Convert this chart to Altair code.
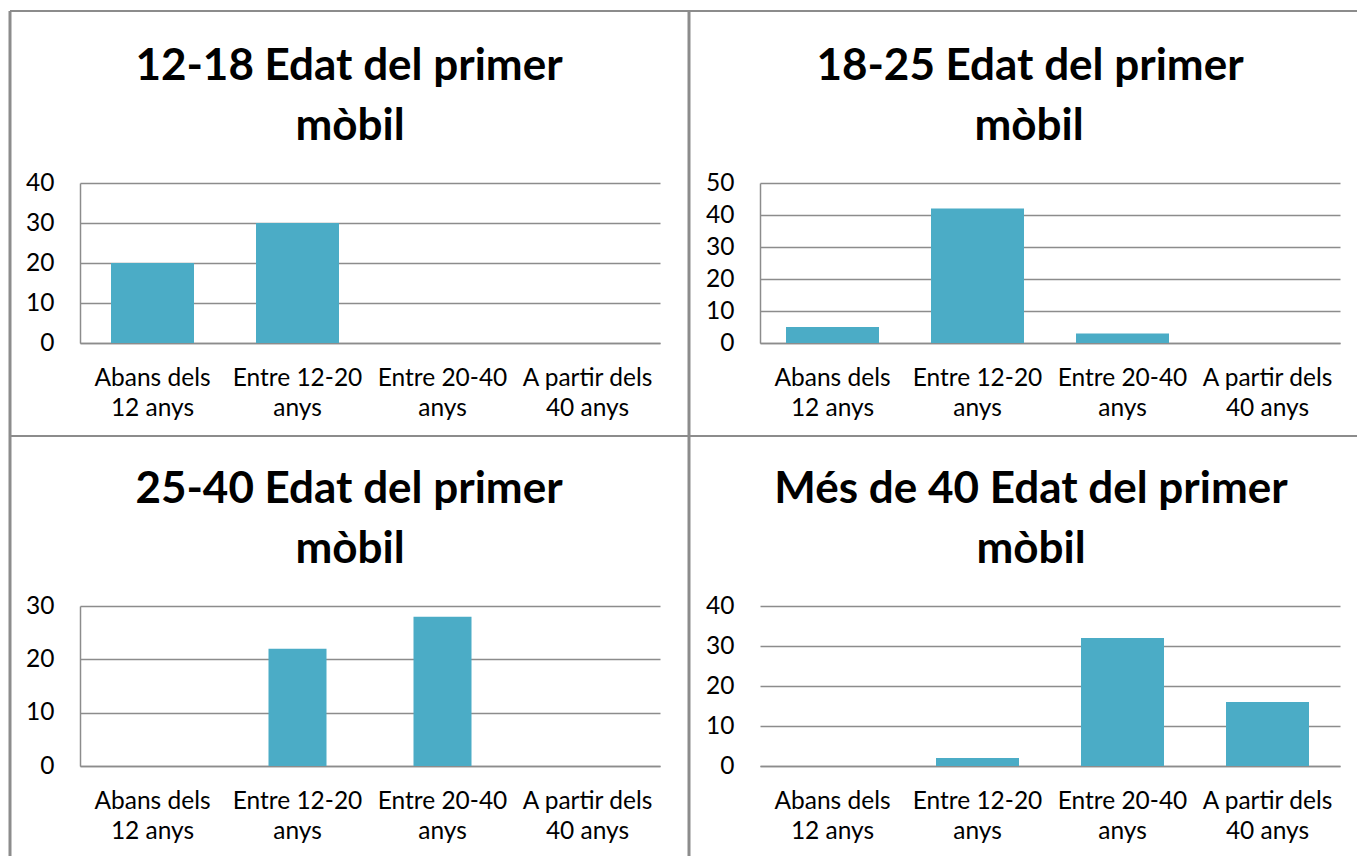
import altair as alt
import pandas as pd

# ---- data ----
categories = ["Abans dels\n12 anys", "Entre 12-20\nanys", "Entre 20-40\nanys", "A partir dels\n40 anys"]
values_12_18 = [20, 30, 0, 0]
values_18_25 = [5, 42, 3, 0]
values_25_40 = [0, 22, 28, 0]
values_40_plus = [0, 2, 32, 16]
title_line1 = ["12-18 Edat del primer", "18-25 Edat del primer", "25-40 Edat del primer", "Més de 40 Edat del primer"]
title_line2 = ["mòbil", "mòbil", "mòbil", "mòbil"]
y_ticks = [[0, 10, 20, 30, 40], [0, 10, 20, 30, 40, 50], [0, 10, 20, 30], [0, 10, 20, 30, 40]]

all_values = [values_12_18, values_18_25, values_25_40, values_40_plus]

# ---- styling ----
FONT = "Lato"
BAR = "#4BACC6"
GRID = "#8c8c8c"
BORDER = "#8c8c8c"
W, H = 580, 160
bar_sizes = [83, 93, 58, 83]
show_ydomain = [True, True, True, False]
# border geometry relative to each plot area: (left x, top y, bottom y, right x)
borders = [(-70, -172, 253, 609), (-71, -172, 253, 597), (-70, -170, 250, 609), (-71, -170, 250, 597)]
# title centers relative to plot area (line1, line2)
title_x = [(269, 270), (270, 269), (269, 270), (271, 271)]


def panel(i):
    df = pd.DataFrame({"cat": categories, "val": all_values[i]})
    ymax = y_ticks[i][-1]
    bars = alt.Chart(df).mark_bar(size=bar_sizes[i], color=BAR).encode(
        x=alt.X(
            "cat:N",
            sort=categories,
            scale=alt.Scale(paddingInner=0, paddingOuter=0),
            axis=alt.Axis(
                title=None,
                labelExpr="split(datum.label, '\\n')",
                labelAngle=0,
                labelFont=FONT,
                labelFontSize=24.5,
                labelLineHeight=30,
                labelPadding=23,
                labelColor="#000000",
                labelLimit=300,
                labelOverlap=False,
                ticks=False,
                grid=False,
                domainColor=GRID,
                domainWidth=1.5,
            ),
        ),
        y=alt.Y(
            "val:Q",
            scale=alt.Scale(domain=[0, ymax], nice=False),
            axis=alt.Axis(
                title=None,
                values=y_ticks[i],
                labelFont=FONT,
                labelFontSize=24.5,
                labelPadding=26,
                labelColor="#000000",
                ticks=False,
                grid=True,
                gridColor=GRID,
                gridWidth=1.5,
                domain=show_ydomain[i],
                domainColor=GRID,
                domainWidth=1.5,
            ),
        ),
        tooltip=[alt.Tooltip("val:Q", title="valor")],
    )
    lx, ty, by, rx = borders[i]
    dr = pd.DataFrame({"k": [0]})
    left = alt.Chart(dr).mark_rule(color=BORDER, strokeWidth=3).encode(
        x=alt.value(lx), y=alt.value(ty), y2=alt.value(by)
    )
    top = alt.Chart(dr).mark_rule(color=BORDER, strokeWidth=2).encode(
        x=alt.value(lx), x2=alt.value(rx), y=alt.value(ty)
    )
    dt = pd.DataFrame({"l1": [title_line1[i]], "l2": [title_line2[i]]})
    t1 = alt.Chart(dt).mark_text(
        font=FONT, fontSize=44, fontWeight="bold", color="#000000", align="center", baseline="alphabetic"
    ).encode(text="l1:N", x=alt.value(title_x[i][0]), y=alt.value(-103))
    t2 = alt.Chart(dt).mark_text(
        font=FONT, fontSize=44, fontWeight="bold", color="#000000", align="center", baseline="alphabetic"
    ).encode(text="l2:N", x=alt.value(title_x[i][1]), y=alt.value(-43))
    return alt.layer(left, top, bars, t1, t2).properties(width=W, height=H)


chart = (
    alt.concat(
        panel(0), panel(1), panel(2), panel(3),
        columns=2,
        spacing={"row": 263, "column": 100},
        bounds="flush",
    )
    .properties(padding={"left": 8, "top": 9, "right": 0, "bottom": 0}, background="white")
    .configure_view(stroke=None)
)

chart.save("out.html", embed_options={"renderer": "svg", "actions": False})
